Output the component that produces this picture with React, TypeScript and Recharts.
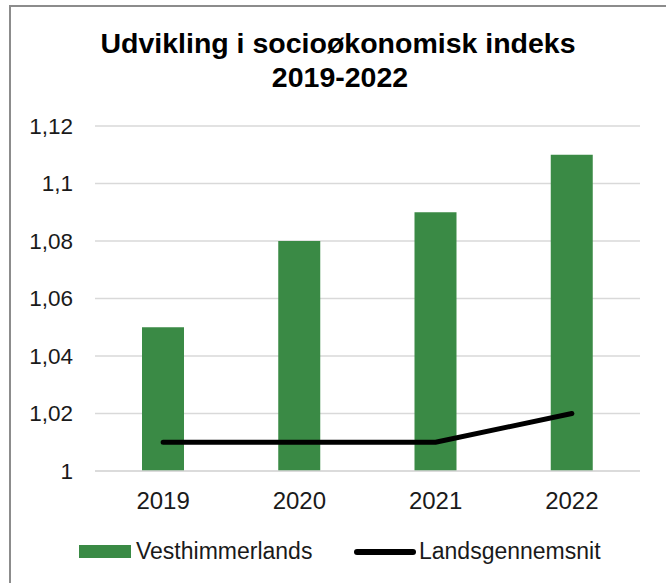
import React from 'react'

import { ComposedChart, Bar, Line, XAxis, YAxis, CartesianGrid, Legend, Customized } from 'recharts'

const years = ['2019', '2020', '2021', '2022']
const vesthimmerlands = [1.05, 1.08, 1.09, 1.11]
const landsgennemsnit = [1.01, 1.01, 1.01, 1.02]
const yTicks = [1, 1.02, 1.04, 1.06, 1.08, 1.1, 1.12]

const data = years.map((year, i) => ({
  year,
  vesthimmerlands: vesthimmerlands[i],
  landsgennemsnit: landsgennemsnit[i]
}))

const font = '"Liberation Sans", Arial, sans-serif'
const green = '#3A8A45'
const textColor = '#1a1a1a'

const formatTick = (v: number) => String(Number(v.toFixed(2))).replace('.', ',')

const ChartLegend = () => (
  <div style={{ position: 'relative', height: 30, fontFamily: font, fontSize: 23, color: textColor }}>
    <div style={{ position: 'absolute', left: 79, top: 9, width: 52, height: 13, background: green }} />
    <div style={{ position: 'absolute', left: 136, top: 1, lineHeight: '28px' }}>Vesthimmerlands</div>
    <div style={{ position: 'absolute', left: 354, top: 13, width: 62, height: 6, borderRadius: 3, background: '#000' }} />
    <div style={{ position: 'absolute', left: 419, top: 1, lineHeight: '28px' }}>Landsgennemsnit</div>
  </div>
)

const Frame = () => (
  <g>
    <rect x={10} y={6} width={680} height={600} fill="none" stroke="#8c8c8c" strokeWidth={2} />
    <text x={338} y={53} textAnchor="middle" fontFamily={font} fontWeight="bold" fontSize={28.5} fill="#000">
      Udvikling i socioøkonomisk indeks
    </text>
    <text x={340} y={87} textAnchor="middle" fontFamily={font} fontWeight="bold" fontSize={28.5} fill="#000">
      2019-2022
    </text>
  </g>
)

const App = () => {
  return (
    <div style={{ position: 'absolute', left: 0, top: 0, background: '#fff' }}>
      <ComposedChart
        width={666}
        height={583}
        data={data}
        margin={{ top: 126, right: 26, bottom: 0, left: 0 }}
      >
        <Customized component={Frame} />
        <CartesianGrid vertical={false} stroke="#d9d9d9" strokeWidth={1.5} />
        <XAxis
          dataKey="year"
          height={62}
          tickLine={false}
          tickSize={0}
          tickMargin={21}
          axisLine={{ stroke: '#d9d9d9', strokeWidth: 1.5 }}
          tick={{ fontFamily: font, fontSize: 24, fill: textColor }}
        />
        <YAxis
          width={95}
          domain={[1, 1.12]}
          ticks={yTicks}
          interval={0}
          tickFormatter={formatTick}
          axisLine={false}
          tickLine={false}
          tickSize={0}
          tickMargin={22}
          tick={{ fontFamily: font, fontSize: 22.5, fill: textColor }}
        />
        <Legend verticalAlign="bottom" height={50} content={() => <ChartLegend />} wrapperStyle={{ left: 0, width: 666, top: 536 }} />
        <Bar dataKey="vesthimmerlands" name="Vesthimmerlands" fill={green} barSize={42} isAnimationActive={false} />
        <Line
          dataKey="landsgennemsnit"
          name="Landsgennemsnit"
          type="linear"
          stroke="#000"
          strokeWidth={5}
          strokeLinecap="round"
          dot={false}
          activeDot={false}
          isAnimationActive={false}
        />
      </ComposedChart>
    </div>
  )
}

export default App
